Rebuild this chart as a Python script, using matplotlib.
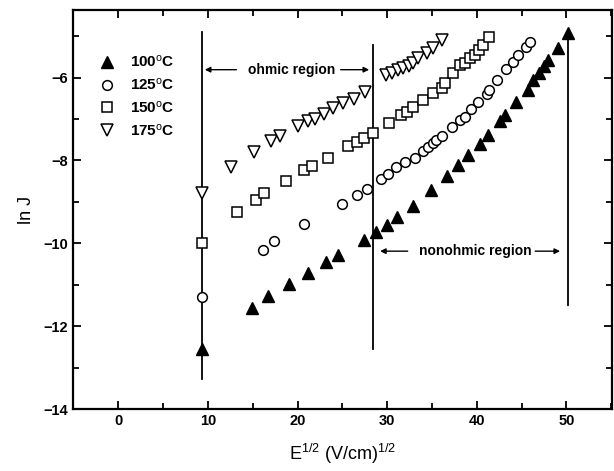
import matplotlib
matplotlib.use('Agg')
import matplotlib.pyplot as plt

plt.rcParams['font.family'] = ['Liberation Sans', 'DejaVu Sans']
plt.rcParams['mathtext.fontset'] = 'custom'
plt.rcParams['mathtext.rm'] = 'Liberation Sans'
plt.rcParams['mathtext.it'] = 'Liberation Sans:italic'
plt.rcParams['mathtext.bf'] = 'Liberation Sans:bold'

# E^1/2 (V/cm)^1/2 vs ln J
x100 = [9.3, 14.9, 16.7, 19.1, 21.2, 23.2, 24.5, 27.4, 28.7, 30.0, 31.1, 32.9, 34.9, 36.7,
        37.9, 39.0, 40.4, 41.3, 42.6, 43.1, 44.4, 45.7, 46.3, 46.9, 47.5, 47.9, 49.1, 50.2]
y100 = [-12.56, -11.56, -11.28, -10.98, -10.71, -10.46, -10.29, -9.91, -9.73, -9.55, -9.37,
        -9.09, -8.71, -8.37, -8.12, -7.86, -7.60, -7.38, -7.06, -6.90, -6.58, -6.30, -6.06,
        -5.88, -5.73, -5.57, -5.29, -4.93]

x125 = [9.3, 16.1, 17.4, 20.7, 25.0, 26.6, 27.7, 29.3, 30.1, 31.0, 32.0, 33.1, 34.0, 34.6,
        35.1, 35.5, 36.1, 37.2, 38.1, 38.7, 39.4, 40.1, 41.1, 41.4, 42.2, 43.3, 44.0, 44.6,
        45.5, 45.9]
y125 = [-11.30, -10.15, -9.95, -9.54, -9.06, -8.84, -8.69, -8.45, -8.32, -8.16, -8.05, -7.93,
        -7.78, -7.68, -7.59, -7.50, -7.40, -7.20, -7.03, -6.94, -6.76, -6.60, -6.40, -6.30,
        -6.05, -5.80, -5.62, -5.45, -5.26, -5.13]

x150 = [9.4, 13.3, 15.4, 16.3, 18.7, 20.7, 21.6, 23.4, 25.6, 26.6, 27.4, 28.4, 30.2, 31.6,
        32.2, 32.9, 34.0, 35.1, 36.1, 36.4, 37.3, 38.1, 38.7, 39.2, 39.8, 40.3, 40.7, 41.4]
y150 = [-9.99, -9.24, -8.95, -8.79, -8.49, -8.22, -8.13, -7.93, -7.66, -7.55, -7.45, -7.33,
        -7.10, -6.90, -6.82, -6.71, -6.54, -6.38, -6.26, -6.14, -5.90, -5.70, -5.65, -5.53,
        -5.45, -5.33, -5.21, -5.01]

x175 = [9.3, 12.6, 15.1, 17.0, 18.1, 20.1, 21.2, 21.9, 22.9, 24.0, 25.1, 26.3, 27.5, 29.9,
        30.5, 31.2, 31.8, 32.4, 32.9, 33.4, 34.4, 35.1, 36.1]
y175 = [-8.79, -8.15, -7.80, -7.53, -7.41, -7.17, -7.05, -6.99, -6.88, -6.74, -6.61, -6.52,
        -6.34, -5.93, -5.88, -5.81, -5.77, -5.73, -5.65, -5.53, -5.40, -5.29, -5.09]

labels = ['100$^{\\rm o}$C', '125$^{\\rm o}$C', '150$^{\\rm o}$C', '175$^{\\rm o}$C']

# region boundaries (x, y_top, y_bottom)
bound_x = [9.3, 28.4, 50.2]
bound_top = [-4.89, -5.21, -4.93]
bound_bot = [-13.28, -12.54, -11.5]

fig = plt.figure(figsize=(6.14, 4.71), dpi=100)
ax = fig.add_axes([0.1184, 0.1316, 0.8783, 0.8471])

for bx, bt, bb in zip(bound_x, bound_top, bound_bot):
    ax.plot([bx, bx], [bt, bb], color='black', lw=1.3, zorder=1)

ax.plot(x100, y100, ls='none', marker='^', ms=8, mfc='black', mec='black', label=labels[0])
ax.plot(x125, y125, ls='none', marker='o', ms=7, mfc='white', mec='black', mew=1.1, label=labels[1])
ax.plot(x150, y150, ls='none', marker='s', ms=6.5, mfc='white', mec='black', mew=1.1, label=labels[2])
ax.plot(x175, y175, ls='none', marker='v', ms=8, mfc='white', mec='black', mew=1.1, label=labels[3])

# region annotations
ax.text(19.3, -5.81, 'ohmic region', ha='center', va='center', fontsize=10, fontweight='bold')
ax.annotate('', xy=(9.35, -5.81), xytext=(13.5, -5.81),
            arrowprops=dict(arrowstyle='-|>', color='black', lw=1, mutation_scale=8))
ax.annotate('', xy=(28.3, -5.81), xytext=(24.5, -5.81),
            arrowprops=dict(arrowstyle='-|>', color='black', lw=1, mutation_scale=8))
ax.text(39.8, -10.19, 'nonohmic region', ha='center', va='center', fontsize=10, fontweight='bold')
ax.annotate('', xy=(28.9, -10.19), xytext=(32.6, -10.19),
            arrowprops=dict(arrowstyle='-|>', color='black', lw=1, mutation_scale=8))
ax.annotate('', xy=(49.6, -10.19), xytext=(46.2, -10.19),
            arrowprops=dict(arrowstyle='-|>', color='black', lw=1, mutation_scale=8))

ax.set_xlim(-5.08, 55.08)
ax.set_ylim(-14, -4.37)
ax.set_xticks([0, 10, 20, 30, 40, 50])
ax.set_xticks([-5, 5, 15, 25, 35, 45, 55], minor=True)
ax.set_yticks([-14, -12, -10, -8, -6])
ax.set_yticks([-13, -11, -9, -7, -5], minor=True)
ax.tick_params(which='both', direction='in', top=True, right=True, width=1.3,
               labelsize=10.5)
ax.tick_params(which='major', length=6)
ax.tick_params(which='minor', length=4)
for lab in ax.get_xticklabels() + ax.get_yticklabels():
    lab.set_fontweight('bold')
for sp in ax.spines.values():
    sp.set_linewidth(1.6)

ax.set_xlabel('E$^{1/2}$ (V/cm)$^{1/2}$', fontsize=13, labelpad=10)
ax.set_ylabel('ln J', fontsize=13, labelpad=6)

ax.legend(loc='upper left', bbox_to_anchor=(0.035, 0.905), frameon=False,
          prop={'size': 11, 'weight': 'bold'},
          handletextpad=0.9, labelspacing=0.45, handlelength=1.2, borderaxespad=0)

fig.savefig('out.png', dpi=100)
